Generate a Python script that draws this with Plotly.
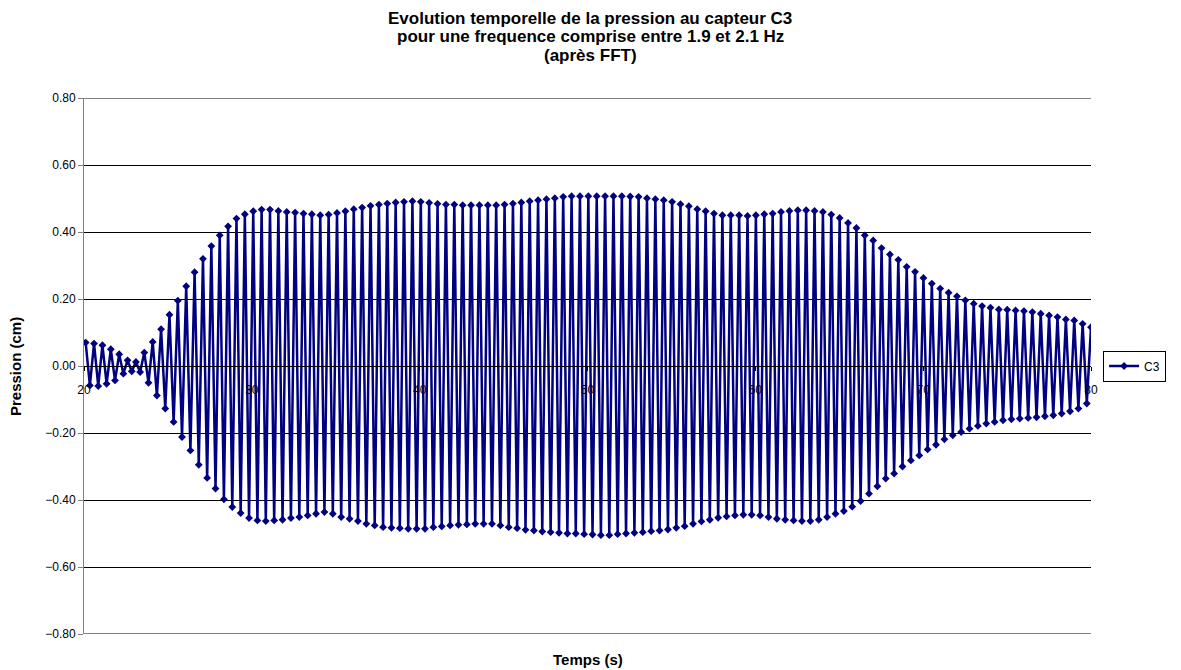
import plotly.graph_objects as go
import numpy as np

# Peak (crest) values of each oscillation (cm)
upper = [
    0.070, 0.067, 0.062, 0.050, 0.035, 0.017, 0.012, 0.040, 0.072, 0.110,
    0.153, 0.195, 0.238, 0.280, 0.320, 0.358, 0.390, 0.417, 0.440, 0.453,
    0.462, 0.467, 0.467, 0.463, 0.460,
    0.458, 0.455, 0.453, 0.450, 0.452, 0.457, 0.462, 0.468, 0.473, 0.478,
    0.482, 0.485, 0.488, 0.490, 0.492, 0.490, 0.487, 0.484, 0.482, 0.482,
    0.480, 0.480, 0.480, 0.480,
    0.480, 0.482, 0.485, 0.488, 0.492, 0.495, 0.498, 0.501, 0.505, 0.507,
    0.507, 0.507, 0.507, 0.507, 0.507, 0.507, 0.506, 0.505, 0.501, 0.498,
    0.495, 0.490, 0.483, 0.477,
    0.468, 0.462, 0.455, 0.450, 0.450, 0.450, 0.448, 0.450, 0.453, 0.455,
    0.460, 0.463, 0.465, 0.465, 0.463, 0.460, 0.452, 0.442, 0.427, 0.412,
    0.390, 0.375, 0.352, 0.333,
    0.317, 0.296, 0.281, 0.263, 0.246, 0.231, 0.219, 0.208, 0.196, 0.186,
    0.179, 0.174, 0.169, 0.168, 0.166, 0.164, 0.161, 0.156, 0.151, 0.146,
    0.139, 0.136, 0.126, 0.116,
]

# Trough values of each oscillation (cm)
lower = [
    -0.058, -0.060, -0.053, -0.043, -0.023, -0.016, -0.018, -0.050, -0.088, -0.127,
    -0.167, -0.212, -0.252, -0.295, -0.334, -0.366, -0.398, -0.421, -0.439, -0.454,
    -0.461, -0.463, -0.461, -0.459,
    -0.454, -0.451, -0.446, -0.441, -0.436, -0.441, -0.451, -0.456, -0.463, -0.471,
    -0.476, -0.481, -0.483, -0.484, -0.486, -0.486, -0.486, -0.481, -0.479, -0.476,
    -0.474, -0.473, -0.471, -0.471,
    -0.471, -0.476, -0.481, -0.484, -0.489, -0.491, -0.494, -0.496, -0.498, -0.500,
    -0.500, -0.502, -0.503, -0.505, -0.505, -0.502, -0.500, -0.498, -0.496, -0.493,
    -0.491, -0.488, -0.483, -0.478,
    -0.471, -0.464, -0.459, -0.453, -0.449, -0.446, -0.444, -0.444, -0.446, -0.451,
    -0.456, -0.459, -0.461, -0.463, -0.463, -0.459, -0.451, -0.441, -0.433, -0.420,
    -0.403, -0.381, -0.359, -0.336,
    -0.321, -0.300, -0.282, -0.267, -0.249, -0.235, -0.219, -0.207, -0.197, -0.187,
    -0.179, -0.172, -0.167, -0.162, -0.159, -0.157, -0.155, -0.153, -0.150, -0.147,
    -0.142, -0.135, -0.127, -0.112,
]

t_start, t_end = 20.1, 80.0      # time span of the recorded extremes (s)
y_ticks = [-0.8, -0.6, -0.4, -0.2, 0.0, 0.2, 0.4, 0.6, 0.8]
x_ticks = [20, 30, 40, 50, 60, 70, 80]
title_lines = [
    "Evolution temporelle de la pression au capteur C3",
    "pour une frequence comprise entre 1.9 et 2.1 Hz",
    "(après FFT)",
]

# interleave crests and troughs in time order
values = []
for i in range(len(upper)):
    values.append(upper[i])
    if i < len(lower):
        values.append(lower[i])
times = np.linspace(t_start, t_end, len(values))

NAVY = "#000080"
FONT = "Liberation Sans, Arial, sans-serif"
W, H = 1181, 670
ML, MR, MT, MB = 84, 90, 98, 36
PH = H - MT - MB

def py(pix):
    """pixel row -> paper y"""
    return (H - MB - pix) / PH

def px(pix):
    """pixel column -> paper x"""
    return (pix - ML) / (W - ML - MR)

fig = go.Figure()
fig.add_trace(go.Scatter(
    x=times, y=values, name="C3", mode="lines+markers",
    line=dict(color=NAVY, width=2.5),
    marker=dict(symbol="diamond", size=6, color=NAVY),
))

fig.update_layout(
    width=W, height=H,
    paper_bgcolor="white", plot_bgcolor="white",
    margin=dict(l=ML, r=MR, t=MT, b=MB, autoexpand=False),
    font=dict(family=FONT, size=12, color="black"),
    showlegend=True,
    legend=dict(
        x=1.012, xanchor="left", y=0.5, yanchor="middle",
        bordercolor="black", borderwidth=1, bgcolor="white",
        font=dict(family=FONT, size=12, color="black"),
        itemwidth=30, tracegroupgap=0,
    ),
)

fig.update_xaxes(
    range=[20, 80], tickvals=x_ticks, ticktext=[str(v) for v in x_ticks],
    anchor="free", position=0.5,
    showline=True, linecolor="black", linewidth=1,
    ticks="outside", ticklen=4, tickcolor="black",
    ticklabelstandoff=9,
    showgrid=False, zeroline=False,
    tickfont=dict(family=FONT, size=12, color="black"),
)
fig.update_yaxes(
    range=[-0.8, 0.8], tickvals=y_ticks, tickformat=".2f",
    showline=True, linecolor="#808080", linewidth=1, mirror=False,
    ticks="outside", ticklen=5, tickcolor="#808080",
    showgrid=True, gridcolor="black", gridwidth=1,
    zeroline=False,
    tickfont=dict(family=FONT, size=12, color="black"),
)

# plot-area top / bottom borders
for yv in (0.8, -0.8):
    fig.add_shape(type="line", xref="paper", yref="y", x0=0, x1=1, y0=yv, y1=yv,
                  line=dict(color="#808080", width=2), layer="below")

# title, three lines
for pix, line in zip((18, 37, 56), title_lines):
    fig.add_annotation(
        text="<b>" + line + "</b>", xref="paper", yref="paper",
        x=px(590), y=py(pix), xanchor="center", yanchor="middle", showarrow=False,
        font=dict(family=FONT, size=17, color="black"),
    )

fig.add_annotation(
    text="<b>Temps (s)</b>", xref="paper", yref="paper",
    x=px(588), y=py(659), xanchor="center", yanchor="middle", showarrow=False,
    font=dict(family=FONT, size=15, color="black"),
)
fig.add_annotation(
    text="<b>Pression (cm)</b>", xref="paper", yref="paper", textangle=-90,
    x=px(15), y=py(367), xanchor="center", yanchor="middle", showarrow=False,
    font=dict(family=FONT, size=15, color="black"),
)

fig.write_html("out.html", config={"displayModeBar": False},
               post_script="document.body.style.margin='0';")
